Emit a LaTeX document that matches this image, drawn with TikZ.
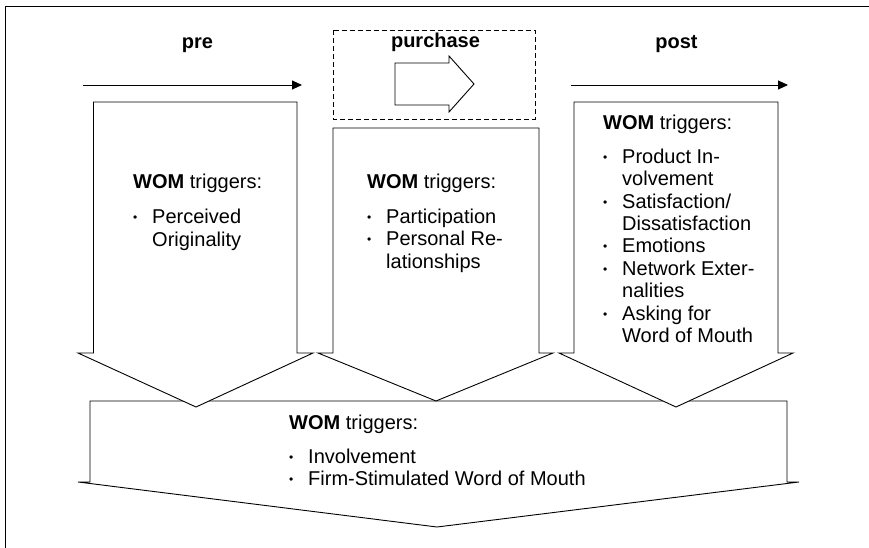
\documentclass[tikz,border=0pt]{standalone}
\usepackage{fontspec}
\setmainfont{Liberation Sans}
\usetikzlibrary{arrows.meta}
% small bullet with a hanging indent for the trigger lists
\newcommand\trigbullet{\makebox[19pt][l]{\raisebox{2.0pt}{\fontsize{12}{12}\selectfont •}}}
\newcommand\trigindent{\hspace*{19pt}}
\begin{document}
\begin{tikzpicture}[x=1pt,y=-1pt,
  outline/.style={draw=black, line width=0.9pt, fill=white, line join=miter},
  zone/.style={draw=black, line width=0.9pt, dash pattern=on 5pt off 3pt},
  frame/.style={draw=black, line width=0.9pt},
  phase/.style={font=\fontsize{20}{22}\selectfont\bfseries, anchor=base, inner sep=0pt},
  triggers/.style={font=\fontsize{20}{22.4}\selectfont, anchor=base west, inner sep=0pt},
  timeline/.style={line width=0.9pt, -{Triangle[length=10pt,width=9pt]}}]
\useasboundingbox (0,0) rectangle (869,548);
\fill[white] (0,0) rectangle (869,548);

% surrounding frame (open to the right and bottom)
\draw[frame] (5,548) -- (5,6) -- (869,6);

% phase titles
\node[phase] (pre) at (197.5,49) {pre};
\node[phase] (purchase) at (435.5,48) {purchase};
\node[phase] (post) at (676.5,49) {post};

% time lines for the pre and post phases
\coordinate (preS) at (83,85);
\coordinate (preE) at (302,85);
\coordinate (postS) at (571,85);
\coordinate (postE) at (788,85);
\draw[timeline] (preS) -- (preE);
\draw[timeline] (postS) -- (postE);

% purchase moment: dashed zone with a block arrow
\draw[zone] (333,30) rectangle (535,119);
\draw[outline] (395,63) -- (449,63) -- (449,56) -- (474,84) -- (449,112) -- (449,105) -- (395,105) -- cycle;

% common block arrow at the bottom
\draw[outline] (90,401) -- (787,401) -- (787,482) -- (799,482) -- (437,527) -- (78,482) -- (90,482) -- cycle;

% phase block arrows pointing down into the common block
\draw[outline] (93.5,102) -- (297,102) -- (297,353) -- (313,353) -- (196,407) -- (78,353) -- (93.5,353) -- cycle;
\draw[outline] (333,128) -- (539,128) -- (539,353) -- (553,353) -- (436,401) -- (318,353) -- (333,353) -- cycle;
\draw[outline] (574,102) -- (778,102) -- (778,353) -- (793,353) -- (676,407) -- (559,353) -- (574,353) -- cycle;

% trigger lists (baseline of the first row sits at the node position)
\node[triggers] (pretext) at (133,189) {\begin{tabular}[t]{@{}l@{}}
  \textbf{WOM} triggers:\\[12.5pt]
  \trigbullet Perceived\\
  \trigindent Originality
  \end{tabular}};
\node[triggers] (purchasetext) at (367,189) {\begin{tabular}[t]{@{}l@{}}
  \textbf{WOM} triggers:\\[12pt]
  \trigbullet Participation\\
  \trigbullet Personal Re-\\
  \trigindent lationships
  \end{tabular}};
\node[triggers] (posttext) at (603,130) {\begin{tabular}[t]{@{}l@{}}
  \textbf{WOM} triggers:\\[11pt]
  \trigbullet Product In-\\
  \trigindent volvement\\
  \trigbullet Satisfaction/\\
  \trigindent Dissatisfaction\\
  \trigbullet Emotions\\
  \trigbullet Network Exter-\\
  \trigindent nalities\\
  \trigbullet Asking for\\
  \trigindent Word of Mouth
  \end{tabular}};
\node[triggers] (commontext) at (289,429) {\begin{tabular}[t]{@{}l@{}}
  \textbf{WOM} triggers:\\[12pt]
  \trigbullet Involvement\\
  \trigbullet Firm-Stimulated Word of Mouth
  \end{tabular}};
\end{tikzpicture}
\end{document}
